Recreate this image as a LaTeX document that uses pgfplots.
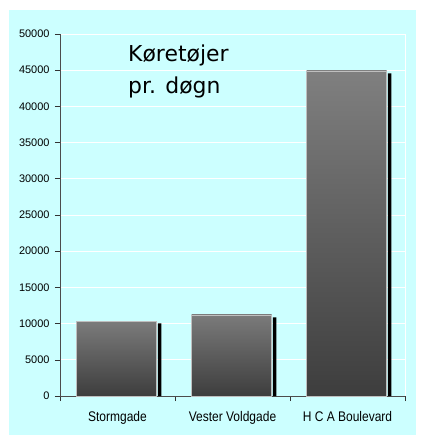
\documentclass[border=0pt]{standalone}
\usepackage{fontspec}
\setmainfont{Liberation Sans}
\newfontfamily\titlefont{DejaVu Sans}
\newfontfamily\narrowfont[FakeStretch=0.86]{Liberation Sans}
\usepackage{pgfplots}
\pgfplotsset{compat=1.18}
\definecolor{bg}{HTML}{CCFFFF}
\begin{document}
\begin{tikzpicture}
\useasboundingbox (-60bp,-41bp) rectangle (366bp,396bp);
\fill[bg] (-51bp,-39bp) rectangle (356bp,386bp);
\begin{axis}[
  at={(0,0)}, anchor=south west,
  scale only axis, width=345bp, height=362bp,
  xmin=0, xmax=3, ymin=0, ymax=50000,
  ytick distance=5000,
  scaled y ticks=false,
  /pgf/number format/assume math mode=true,
  yticklabel={\pgfmathprintnumber[assume math mode=true,1000 sep={}]{\tick}},
  y tick label style={font=\fontsize{11}{12}\selectfont, xshift=-2bp},
  xtick={0,1,2,3}, xticklabels={},
  extra x ticks={0.5,1.5,2.5},
  extra x tick labels={Stormgade, Vester Voldgade, H C A Boulevard},
  extra x tick style={major tick length=0pt, tick label style={font=\narrowfont\fontsize{14}{15}\selectfont, yshift=-12bp}},
  tick align=outside, major tick length=5bp,
  tick style={draw=black!80, line width=0.6bp},
  axis x line*=bottom, axis y line*=left,
  axis line style={-, draw=black!70, line width=0.9bp},
  ymajorgrids, grid style={white, line width=0.8bp},
  axis background/.style={fill=bg},
]
\addplot[ybar, bar width=3.5bp, bar shift=42bp, fill=black, draw=none]
  coordinates {(0.5,10030) (1.5,10870) (2.5,44570)};
\addplot[ybar, bar width=80bp, bar shift=-1bp, draw=black!25, line width=0.8bp,
  top color=black!52, bottom color=black!76]
  coordinates {(0.5,10250)};
\addplot[ybar, bar width=80bp, bar shift=-1bp, draw=black!25, line width=0.8bp,
  top color=black!52, bottom color=black!76]
  coordinates {(1.5,11200)};
\addplot[ybar, bar width=80bp, bar shift=-1bp, draw=black!25, line width=0.8bp,
  top color=black!50, bottom color=black!76]
  coordinates {(2.5,44900)};
\end{axis}
\draw[white, line width=0.8bp] (345bp,0bp) -- (345bp,362bp);
\node[anchor=base west, inner sep=0pt, font=\titlefont\fontsize{22}{32}\selectfont] at (68bp,334bp) {Køretøjer};
\node[anchor=base west, inner sep=0pt, font=\titlefont\fontsize{22}{32}\selectfont] at (68bp,302bp) {pr. døgn};
\end{tikzpicture}
\end{document}
